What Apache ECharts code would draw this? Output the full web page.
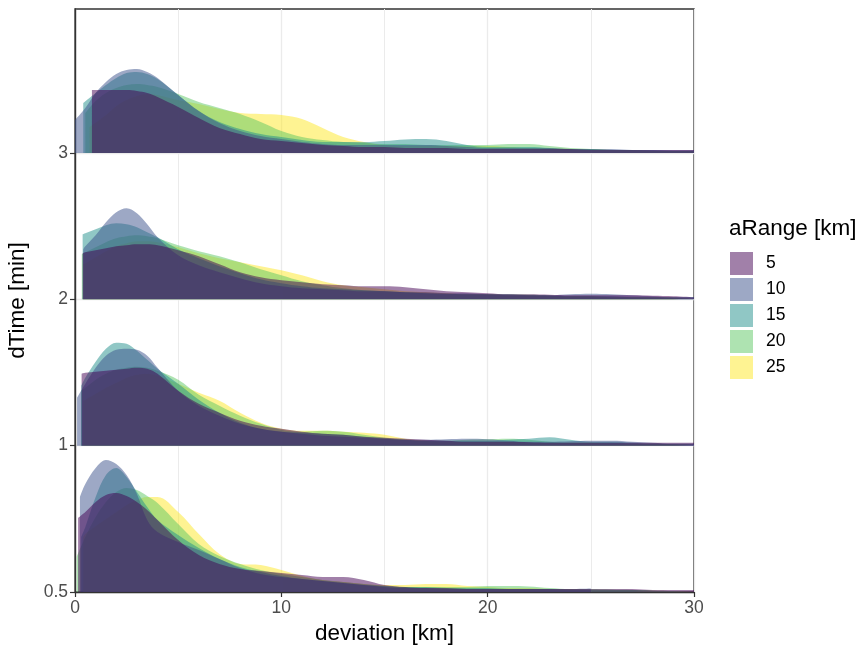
<!DOCTYPE html>
<html>
<head>
<meta charset="utf-8">
<script src="https://cdn.jsdelivr.net/npm/echarts@6/dist/echarts.min.js"></script>
<style>
  html, body { margin: 0; background: #fff; }
  #chart { width: 861px; height: 648px; }
</style>
</head>
<body>
<div id="chart"></div>
<script>
// ridge rows (bottom to top) and fill groups
const dTimeLabels = ['0.5', '1', '2', '3']
const aRanges = ['5', '10', '15', '20', '25']
const fills = ['rgba(68,1,84,0.5)', 'rgba(59,82,139,0.5)', 'rgba(33,144,140,0.5)', 'rgba(93,200,99,0.5)', 'rgba(253,231,37,0.5)']

// deviation grid [km]
const deviation = [0, 0.5, 1, 1.5, 2, 2.5, 3, 3.5, 4,
  5, 6, 7, 8, 9, 10, 11, 12, 13, 14, 15,
  16, 17, 18, 19, 20, 21, 22, 23, 24, 25, 26, 27, 28, 29, 30]

// ridge heights (relative density), first non-null value sits at the curve's start
const start05 = [0.15, 0.24, 0.3, 0.08, 0.4]
const t05_r5 = [74, 80, 90, 97, 99, 96, 90, 82, 72, 52, 37, 28, 23, 21, 19, 17, 15, 15, 12, 7, 5, 4, 4, 3, 3, 3, 3, 3, 3, 3, 3, 3, 2, 2, 2]
const t05_r10 = [95, 108, 124, 132, 128, 117, 98, 72, 60, 50, 42, 33, 24, 18, 15, 13, 11, 9, 7, 5, 4, 4, 3, 3, 3, 3, 3, 3, 3, 3.5, null, null, null, null, null]
const t05_r15 = [55, 65, 95, 117, 124, 115, 100, 85, 72, 57, 44, 33, 25, 20, 16, 13, 11, 9, 7, 6, 5, 5, 4, 4, 4, 3, 3, 3, 2, 2, 2, 2, 1.5, 1, 1]
const t05_r20 = [35, 55, 75, 90, 100, 104, 102, 96, 89, 68, 48, 36, 28, 22, 18, 15, 12, 10, 8, 6, 5, 5, 5, 5, 6, 6, 5.5, 4, 3, 3, 2.5, 2, 1.5, null, null]
const t05_r25 = [55, 58, 66, 73, 80, 87, 92, 95, 95, 80, 58, 38, 28, 27, 22, 16, 12, 10, 8, 7, 7, 8, 8, 6, 5, 4, 4, 3, 3, 2, 2, 2, 1.5, 1, 1]

const start1 = [0.32, 0.1, 0.3, 0.3, 0.4]
const t1_r5 = [72, 73, 74, 75, 76, 77, 78, 77, 72, 55, 42, 33, 25, 20, 17, 14, 12, 11, 9, 8, 7, 6, 5, 4, 4, 4, 3.5, 3, 3, 3, 3, 3, 3, 3, 3]
const t1_r10 = [48, 62, 78, 90, 96, 97, 96, 90, 78, 55, 40, 30, 22, 17, 14, 12, 10, 9, 8, 7, 6, 6, 6.5, 7, 6.5, 5, 4, 4, 4.5, 5, 5, 4, 3, 2, 2]
const t1_r15 = [60, 68, 84, 97, 103, 102, 95, 86, 77, 62, 46, 33, 23, 17, 14, 13, 12, 11, 9, 7, 6, 5, 5, 5, 5, 6, 7, 8.5, 6, 4, 4, 3, 2, 2, 2]
const t1_r20 = [55, 58, 66, 72, 76, 78, 79, 78, 75, 66, 51, 40, 30, 22, 16, 14, 15, 14, 11, 8, 6, 5, 5, 6, 6.5, 7, 6, 4, 3, 3, 3, 2, 2, 1.5, 1]
const t1_r25 = [45, 46, 52, 58, 63, 68, 71, 72, 70, 62, 53, 45, 33, 23, 17, 15, 15, 14, 13, 11, 7, 5, 4, 4, 4, 4, 3, 3, 3, 3, 2, 2, 2, 1.5, 1]

const start2 = [0.37, 0.4, 0.37, 0.33, 0.4]
const t2_r5 = [46, 47, 49, 51, 53, 54, 55, 55, 54, 49, 43, 35, 27, 22, 19, 17, 15, 14, 13, 13, 12, 10, 8, 7, 6, 5, 5, 4.5, 4, 4, 4, 4, 3.5, 3, 2]
const t2_r10 = [50, 53, 64, 77, 87, 91, 86, 75, 62, 44, 34, 27, 21, 16, 13, 11, 10, 9, 8, 8, 7, 7, 6, 6, 5, 5, 4, 4, 5, 5.5, 5, 4, 3, 2, 2]
const t2_r15 = [65, 66, 70, 74, 76, 75, 72, 67, 62, 50, 41, 33, 26, 20, 16, 13, 11, 10, 9, 8, 7, 6, 5.5, 5, 5, 4, 4, 3.5, 3, 3, 3, 2, 2, 2, 2]
const t2_r20 = [45, 47, 52, 57, 61, 63, 64, 63, 61, 54, 48, 43, 37, 30, 24, 18, 14, 11, 9, 8, 7, 6, 5, 5, 5, 5, 4.5, 4, 3, 3, 2, 2, 2, 1.5, 1]
const t2_r25 = [35, 36, 42, 48, 53, 56, 58, 58, 57, 52, 46, 41, 37, 33, 29, 24, 18, 14, 12, 10, 8, 7, 6, 5, 5, 4, 4, 3, 3, 3, 2, 2, 2, 1.5, 1]

const start3 = [0.82, 0, 0.4, 0.5, 0.7]
const t3_r5 = [null, null, 63, 63, 63, 63, 62, 60, 56, 46, 35, 25, 19, 14, 12, 10, 8, 7, 6, 6, 5, 5, 5, 4, 4, 4, 4, 4, 4, 3, 3, 3, 3, 3, 3]
const t3_r10 = [33, 45, 60, 71, 79, 83, 84, 81, 75, 58, 42, 30, 22, 17, 14, 11, 9, 8, 8, 8, 8, 8, 7, 6, 5, 5, 5, 5, 4, 4, 4, 3, 3, 3, 3]
const t3_r15 = [null, 50, 60, 68, 75, 80, 81, 79, 74, 58, 42, 31, 24, 19, 16, 13, 11, 11, 11, 12, 13.5, 14, 12, 8, 6, 6, 6, 5, 4, 4, 3, 3, 3, 2, 2]
const t3_r20 = [null, 40, 52, 60, 65, 68, 69, 68, 66, 59, 51, 45, 39, 31, 22, 16, 13, 11, 10, 9, 9, 8, 8, 8, 8, 9, 9, 7, 5, 4, 3, 3, 2, 2, 2]
const t3_r25 = [null, null, 26, 38, 47, 53, 57, 59, 58, 53, 49, 44, 40, 39, 38, 34, 25, 16, 11, 8, 7, 7, 7, 7, 7, 6, 5, 5, 4, 4, 3, 3, 2, 2, 2]

// height of 1 density unit in row spacings (like ggridges scale)
const ridgeScale = 1 / 146.3

const rows = [
  { starts: start05, curves: [t05_r5, t05_r10, t05_r15, t05_r20, t05_r25] },
  { starts: start1, curves: [t1_r5, t1_r10, t1_r15, t1_r20, t1_r25] },
  { starts: start2, curves: [t2_r5, t2_r10, t2_r15, t2_r20, t2_r25] },
  { starts: start3, curves: [t3_r5, t3_r10, t3_r15, t3_r20, t3_r25] }
]

function toPoints(vals, start, base) {
  const pts = []
  let first = true
  vals.forEach((v, i) => {
    if (v == null) return
    const x = first ? start : deviation[i]
    first = false
    pts.push([x, base + v * ridgeScale])
  })
  return pts
}

const series = []
rows.forEach((row, k) => {
  // yellow first, purple last (on top)
  for (let r = aRanges.length - 1; r >= 0; r--) {
    series.push({
      name: aRanges[r],
      type: 'line',
      smooth: 0.35,
      symbol: 'none',
      silent: true,
      color: fills[r],
      lineStyle: { width: 0 },
      areaStyle: { color: fills[r], opacity: 1, origin: k },
      data: toPoints(row.curves[r], row.starts[r], k)
    })
  }
})

const chart = echarts.init(document.getElementById('chart'))
chart.setOption({
  animation: false,
  textStyle: { fontFamily: 'Liberation Sans, Arial, sans-serif' },
  title: {
    text: 'aRange [km]',
    left: 729,
    top: 217,
    padding: 0,
    textStyle: { fontSize: 22.5, fontWeight: 'normal', color: '#000' }
  },
  legend: {
    orient: 'vertical',
    left: 730,
    top: 252,
    icon: 'rect',
    itemWidth: 23,
    itemHeight: 23,
    itemGap: 3,
    padding: 0,
    selectedMode: false,
    itemStyle: { borderWidth: 0 },
    textStyle: { fontSize: 17.5, color: '#000', padding: [0, 0, 0, 8] },
    data: aRanges.map((name, i) => ({ name, itemStyle: { color: fills[i] } }))
  },
  grid: {
    left: 75, right: 167, top: 9, bottom: 56,
    outerBoundsMode: 'none',
    containLabel: false,
    show: true, borderColor: '#333', borderWidth: 1.4
  },
  xAxis: {
    type: 'value',
    min: 0, max: 30, interval: 10,
    name: 'deviation [km]',
    nameLocation: 'middle',
    nameGap: 29,
    nameTextStyle: { fontSize: 22.5, color: '#000' },
    axisLine: { lineStyle: { color: '#333', width: 1.4 } },
    axisTick: { length: 5, lineStyle: { color: '#333', width: 1.2 } },
    axisLabel: { fontSize: 17.5, color: '#4d4d4d', margin: 7 },
    splitLine: { lineStyle: { color: '#ebebeb', width: 1.3 } },
    minorTick: { show: false, splitNumber: 2 },
    minorSplitLine: { show: true, lineStyle: { color: '#ebebeb', width: 1 } }
  },
  yAxis: {
    type: 'value',
    min: 0, max: 3.984, interval: 1,
    name: 'dTime [min]',
    nameLocation: 'middle',
    nameGap: 46,
    nameTextStyle: { fontSize: 22.5, color: '#000' },
    axisLine: { show: true, lineStyle: { color: '#333', width: 1.4 } },
    axisTick: { show: true, length: 5, customValues: [0, 1, 2, 3], lineStyle: { color: '#333', width: 1.2 } },
    axisLabel: {
      fontSize: 17.5, color: '#4d4d4d', margin: 7,
      customValues: [0, 1, 2, 3],
      formatter: v => dTimeLabels[Math.round(v)] ?? ''
    },
    splitLine: { lineStyle: { color: '#ebebeb', width: 1.3 } }
  },
  series
})
</script>
</body>
</html>
